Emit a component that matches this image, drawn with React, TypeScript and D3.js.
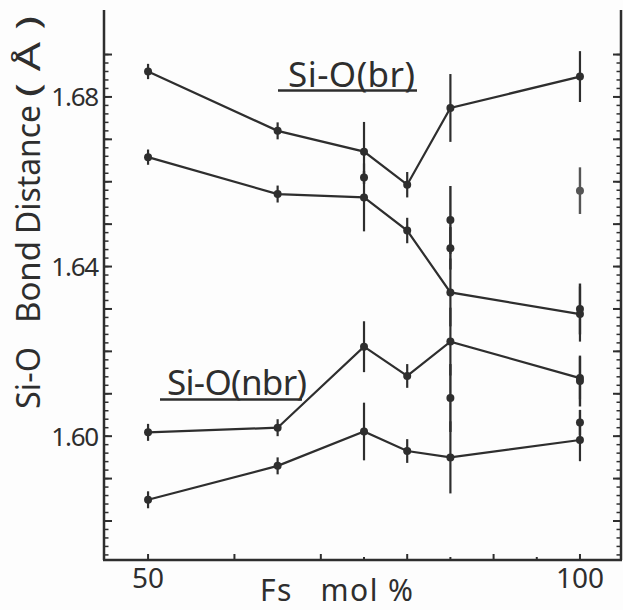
import React from "react";
import * as d3 from "d3";

// ---- data ----
const fsMol = [50, 65, 75, 80, 85, 100];
const brUpper = [1.686, 1.672, 1.6671, 1.6593, 1.6774, 1.6848];
const brUpperErr = [0.0018, 0.002, 0.007, 0.003, 0.008, 0.006];
const brLower = [1.6658, 1.6571, 1.6563, 1.6485, 1.6339, 1.6288];
const brLowerErr = [0.0018, 0.002, 0.008, 0.003, 0.008, 0.0065];
const nbrUpper = [1.6009, 1.602, 1.6211, 1.6142, 1.6223, 1.6137];
const nbrUpperErr = [0.002, 0.002, 0.006, 0.0028, 0.008, 0.005];
const nbrLower = [1.585, 1.593, 1.6011, 1.5965, 1.595, 1.5991];
const nbrLowerErr = [0.002, 0.002, 0.0068, 0.0028, 0.0085, 0.005];

const extraFs = [75, 85, 85, 85, 100, 100, 100, 100];
const extraVal = [1.661, 1.651, 1.6443, 1.609, 1.6579, 1.63, 1.613, 1.6032];
const extraErr = [0.0015, 0.008, 0.005, 0.008, 0.0055, 0.006, 0.006, 0.003];

const xTickLabels = [50, 100];
const xMajorTicks = [50, 60, 70, 80, 90, 100];
const xMinorTicks = [75, 85, 95];
const yTickLabels = [1.6, 1.64, 1.68];

// y-title words and their position along the axis (px from the bottom start)
const yTitleWords = ["Si-O", "Bond", "Distance", "( Å )"];
const yTitleOffsets = [0, 86, 175, 312];
const yTitleLengths = [62, 82, 129, 81];

const W = 623;
const H = 610;
const INK = "#2e2e2e";
const FONT = "'Noto Sans', 'DejaVu Sans', sans-serif";

export default function App() {
  const x = d3.scaleLinear().domain([44.9, 104.75]).range([104, 621]);
  const y = d3.scaleLinear().domain([1.5708, 1.7005]).range([560, 10]);

  const series = [
    { v: brUpper, e: brUpperErr },
    { v: brLower, e: brLowerErr },
    { v: nbrUpper, e: nbrUpperErr },
    { v: nbrLower, e: nbrLowerErr },
  ];

  const line = d3
    .line<number>()
    .x((_, i) => x(fsMol[i]))
    .y((d) => y(d));

  const yMinor = d3.range(0, 60).map((i) => 1.572 + i * 0.002).filter((v) => v <= 1.6905);
  const yMajor = d3.range(0, 12).map((i) => 1.58 + i * 0.01);

  const x0 = x.range()[0];
  const x1 = x.range()[1];
  const yb = y.range()[0];
  const yt = y.range()[1];

  return (
    <svg
      width={W}
      height={H}
      style={{ position: "absolute", left: 0, top: 0, background: "#fff" }}
      fontFamily={FONT}
    >
      <rect width={W} height={H} fill="#fdfdfd" />

      {/* axes frame (open top) */}
      <line x1={x0} y1={yt} x2={x0} y2={yb} stroke={INK} strokeWidth={2.5} />
      <line x1={x1} y1={yt} x2={x1} y2={yb} stroke={INK} strokeWidth={2.5} />
      <line x1={x0 - 1} y1={yb} x2={x1 + 1} y2={yb} stroke={INK} strokeWidth={2.5} />

      {/* y ticks, both sides, inward */}
      {yMinor.map((v, i) => (
        <g key={"ym" + i}>
          <line x1={x0} x2={x0 + 4.5} y1={y(v)} y2={y(v)} stroke={INK} strokeWidth={1.5} />
          <line x1={x1} x2={x1 - 4.5} y1={y(v)} y2={y(v)} stroke={INK} strokeWidth={1.5} />
        </g>
      ))}
      {yMajor.map((v, i) => (
        <g key={"yM" + i}>
          <line x1={x0} x2={x0 + 8} y1={y(v)} y2={y(v)} stroke={INK} strokeWidth={2} />
          <line x1={x1} x2={x1 - 8} y1={y(v)} y2={y(v)} stroke={INK} strokeWidth={2} />
        </g>
      ))}

      {/* x ticks, inward */}
      {xMajorTicks.map((v) => (
        <line key={"xM" + v} x1={x(v)} x2={x(v)} y1={yb} y2={yb - 6} stroke={INK} strokeWidth={2} />
      ))}
      {xMinorTicks.map((v) => (
        <line key={"xm" + v} x1={x(v)} x2={x(v)} y1={yb} y2={yb - 3} stroke={INK} strokeWidth={2} />
      ))}

      {/* tick labels */}
      {xTickLabels.map((v) => (
        <text key={"xl" + v} x={x(v)} y={588} fontSize={28} textAnchor="middle" fill={INK}>
          {v}
        </text>
      ))}
      {yTickLabels.map((v) => (
        <text
          key={"yl" + v}
          x={98}
          y={y(v) + 9.5}
          fontSize={26}
          textAnchor="end"
          fill={INK}
          letterSpacing={-1.2}
        >
          {v.toFixed(2)}
        </text>
      ))}

      {/* axis titles */}
      <g transform={`translate(40,409) rotate(-90)`}>
        {yTitleWords.map((w, i) => (
          <text
            key={w}
            x={yTitleOffsets[i]}
            y={0}
            fontSize={33}
            fill={INK}
            textLength={yTitleLengths[i]}
            lengthAdjust="spacingAndGlyphs"
            style={{ whiteSpace: "pre" }}
          >
            {w}
          </text>
        ))}
      </g>
      <text x={260} y={601} fontSize={30} fill={INK} textLength={153} lengthAdjust="spacing" style={{ whiteSpace: "pre" }}>
        Fs   mol %
      </text>

      {/* series lines */}
      {series.map((s, k) => (
        <path key={"l" + k} d={line(s.v) || ""} fill="none" stroke={INK} strokeWidth={2.2} />
      ))}

      {/* error bars + points */}
      {series.map((s, k) => (
        <g key={"p" + k}>
          {s.v.map((v, i) => (
            <g key={i}>
              <line
                x1={x(fsMol[i])}
                x2={x(fsMol[i])}
                y1={y(v - s.e[i])}
                y2={y(v + s.e[i])}
                stroke={INK}
                strokeWidth={2.2}
              />
              <circle cx={x(fsMol[i])} cy={y(v)} r={4} fill={INK} />
            </g>
          ))}
        </g>
      ))}

      {/* extra isolated measurements */}
      {extraVal.map((v, i) => (
        <g key={"e" + i}>
          <line
            x1={x(extraFs[i])}
            x2={x(extraFs[i])}
            y1={y(v - extraErr[i])}
            y2={y(v + extraErr[i])}
            stroke={i === 4 ? "#555" : INK}
            strokeWidth={2.4}
          />
          <circle cx={x(extraFs[i])} cy={y(v)} r={4} fill={i === 4 ? "#555" : INK} />
        </g>
      ))}

      {/* annotations */}
      <text x={288} y={87} fontSize={35} fill={INK} textLength={127} lengthAdjust="spacing">
        Si-O(br)
      </text>
      <line x1={278} x2={417} y1={90.5} y2={90.5} stroke={INK} strokeWidth={2.5} />
      <text x={167} y={395} fontSize={35} fill={INK} textLength={140} lengthAdjust="spacing">
        Si-O(nbr)
      </text>
      <line x1={160} x2={302} y1={399.5} y2={399.5} stroke={INK} strokeWidth={2.5} />
    </svg>
  );
}
